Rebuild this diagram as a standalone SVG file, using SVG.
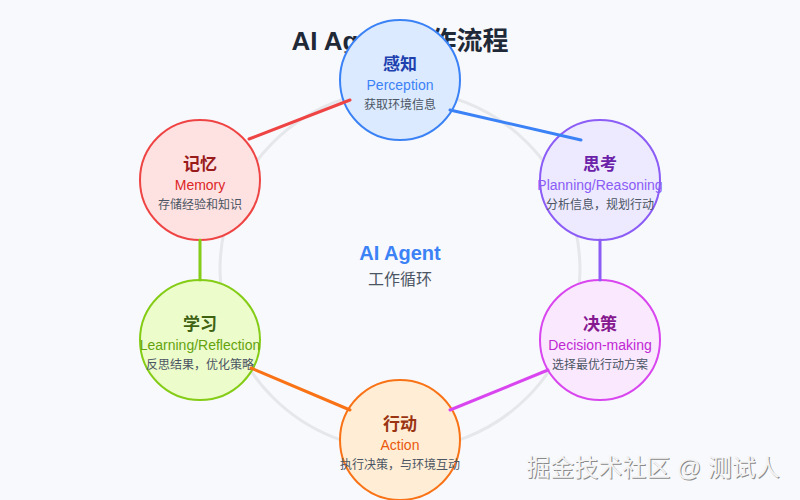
<svg xmlns="http://www.w3.org/2000/svg" width="800" height="500" viewBox="0 0 800 500">
<style>
text{font-family:"Liberation Sans","Noto Sans CJK SC",sans-serif;text-anchor:middle}
.t{font-size:17px;font-weight:bold}
.e{font-size:14px}
.d{font-size:12px;fill:#4b5563}
.c{stroke-width:2}
.ln{stroke-width:3;fill:none;stroke-linecap:round}
</style>
<rect width="800" height="500" fill="#f8f9fc"/>
<circle cx="400" cy="270" r="180" fill="none" stroke="#e5e7eb" stroke-width="3"/>
<text x="400" y="50" style="font-size:26px;font-weight:bold" fill="#1f2937">AI Agent 工作流程</text>
<g id="center">
<text x="400" y="260" style="font-size:20px;font-weight:bold" fill="#3b82f6">AI Agent</text>
<text x="400" y="285" style="font-size:16px" fill="#4b5563">工作循环</text>
</g>
<g id="perception">
<circle class="c" cx="400" cy="80" r="60" fill="#dbeafe" stroke="#3b82f6"/>
<text class="t" x="400" y="70" fill="#1e40af">感知</text>
<text class="e" x="400" y="90" fill="#3b82f6">Perception</text>
<text class="d" x="400" y="109">获取环境信息</text>
</g>
<g id="planning">
<circle class="c" cx="600" cy="180" r="60" fill="#ede9fe" stroke="#8b5cf6"/>
<text class="t" x="600" y="170" fill="#6b21a8">思考</text>
<text class="e" x="600" y="190" fill="#8b5cf6">Planning/Reasoning</text>
<text class="d" x="600" y="209">分析信息，规划行动</text>
</g>
<g id="decision">
<circle class="c" cx="600" cy="340" r="60" fill="#fae8ff" stroke="#d946ef"/>
<text class="t" x="600" y="330" fill="#86198f">决策</text>
<text class="e" x="600" y="350" fill="#c026d3">Decision-making</text>
<text class="d" x="600" y="369">选择最优行动方案</text>
</g>
<g id="action">
<circle class="c" cx="400" cy="440" r="60" fill="#ffedd5" stroke="#f97316"/>
<text class="t" x="400" y="430" fill="#9a3412">行动</text>
<text class="e" x="400" y="450" fill="#ea580c">Action</text>
<text class="d" x="400" y="469">执行决策，与环境互动</text>
</g>
<g id="learning">
<circle class="c" cx="200" cy="340" r="60" fill="#ecfccb" stroke="#84cc16"/>
<text class="t" x="200" y="330" fill="#3f6212">学习</text>
<text class="e" x="200" y="350" fill="#65a30d">Learning/Reflection</text>
<text class="d" x="200" y="369">反思结果，优化策略</text>
</g>
<g id="memory">
<circle class="c" cx="200" cy="180" r="60" fill="#fee2e2" stroke="#ef4444"/>
<text class="t" x="200" y="170" fill="#991b1b">记忆</text>
<text class="e" x="200" y="190" fill="#dc2626">Memory</text>
<text class="d" x="200" y="209">存储经验和知识</text>
</g>
<g id="connectors">
<line class="ln" x1="450" y1="110" x2="581" y2="140" stroke="#3b82f6"/>
<line class="ln" x1="600" y1="240" x2="600" y2="280" stroke="#8b5cf6"/>
<line class="ln" x1="548" y1="370" x2="450" y2="410" stroke="#d946ef"/>
<line class="ln" x1="350" y1="410" x2="251" y2="368" stroke="#f97316"/>
<line class="ln" x1="200" y1="280" x2="200" y2="240" stroke="#84cc16"/>
<line class="ln" x1="249" y1="139" x2="350" y2="100" stroke="#ef4444"/>
</g>
<g id="watermark" style="font-size:24px">
<text x="654" y="477" fill="#8a8a8a">掘金技术社区 @ 测试人</text>
<text x="653" y="476" fill="#f4f4f4">掘金技术社区 @ 测试人</text>
</g>
</svg>
